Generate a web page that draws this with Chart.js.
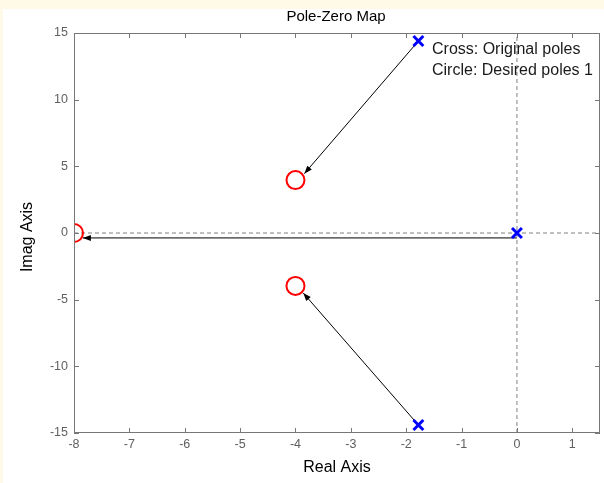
<!DOCTYPE html>
<html>
<head>
<meta charset="utf-8">
<script src="https://cdn.jsdelivr.net/npm/chart.js@4"></script>
<style>
	html, body { margin: 0; padding: 0; background: #fffae8; }
	#wrap { position: absolute; left: 3px; top: 9px; width: 601px; height: 474px; background: #ffffff; }
</style>
</head>
<body>
<div id="wrap"><canvas id="pzChart" width="601" height="474"></canvas></div>
<script>
// axis limits and ticks
const xLimits = [-8, 1.5];
const yLimits = [-15, 15];
const xTicks = [-8, -7, -6, -5, -4, -3, -2, -1, 0, 1];
const yTicks = [-15, -10, -5, 0, 5, 10, 15];

// original poles (crosses)
const poleRe = [-1.78, -1.78, 0];
const poleIm = [14.4, -14.4, 0];

// desired poles (circles)
const desiredRe = [-4, -4, -8];
const desiredIm = [3.97, -3.97, 0];

// arrows: start -> tip
const arrowFromRe = [-1.78, -1.78, 0];
const arrowFromIm = [14.4, -14.4, -0.37];
const arrowToRe = [-3.84, -3.86, -7.84];
const arrowToIm = [4.45, -4.5, -0.37];

const noteLines = ["Cross: Original poles", "Circle: Desired poles 1"];

const FONT = "'Liberation Sans', Arial, sans-serif";

const datasets = [];

datasets.push({
	label: "poles",
	data: poleRe.map((x, i) => ({ x: x, y: poleIm[i] })),
	pointStyle: "crossRot",
	pointRadius: 7,
	pointBorderWidth: 3,
	borderColor: "#0000ff",
	backgroundColor: "#0000ff",
	showLine: false,
	order: 0,
});

datasets.push({
	label: "desired",
	data: desiredRe.map((x, i) => ({ x: x, y: desiredIm[i] })),
	pointStyle: "circle",
	pointRadius: 9,
	pointBorderWidth: 2,
	borderColor: "#ff0000",
	backgroundColor: "rgba(0,0,0,0)",
	showLine: false,
	order: 0,
});

arrowFromRe.forEach((x, i) => {
	datasets.push({
		label: "arrow" + i,
		data: [
			{ x: x, y: arrowFromIm[i] },
			{ x: arrowToRe[i], y: arrowToIm[i] },
		],
		showLine: true,
		borderColor: "#000000",
		borderWidth: 1,
		pointRadius: 0,
		order: 1,
	});
});

// dashed axes through the origin
datasets.push({
	label: "xzero",
	data: [{ x: 0, y: yLimits[0] }, { x: 0, y: yLimits[1] }],
	showLine: true,
	borderColor: "#808080",
	borderWidth: 1,
	borderDash: [4, 3],
	pointRadius: 0,
	order: 2,
});
datasets.push({
	label: "yzero",
	data: [{ x: xLimits[0], y: 0 }, { x: xLimits[1], y: 0 }],
	showLine: true,
	borderColor: "#808080",
	borderWidth: 1,
	borderDash: [4, 3],
	pointRadius: 0,
	order: 2,
});

const decorPlugin = {
	id: "decor",
	afterDatasetsDraw(chart) {
		const ctx = chart.ctx;
		const xs = chart.scales.x;
		const ys = chart.scales.y;

		// arrowheads
		ctx.save();
		ctx.fillStyle = "#000000";
		arrowFromRe.forEach((x, i) => {
			const x0 = xs.getPixelForValue(x);
			const y0 = ys.getPixelForValue(arrowFromIm[i]);
			const x1 = xs.getPixelForValue(arrowToRe[i]);
			const y1 = ys.getPixelForValue(arrowToIm[i]);
			const ang = Math.atan2(y1 - y0, x1 - x0);
			const len = 8, half = 3;
			ctx.beginPath();
			ctx.moveTo(x1, y1);
			ctx.lineTo(x1 - len * Math.cos(ang) + half * Math.sin(ang), y1 - len * Math.sin(ang) - half * Math.cos(ang));
			ctx.lineTo(x1 - len * Math.cos(ang) - half * Math.sin(ang), y1 - len * Math.sin(ang) + half * Math.cos(ang));
			ctx.closePath();
			ctx.fill();
		});
		ctx.restore();
	},
	afterDraw(chart) {
		const ctx = chart.ctx;
		const xs = chart.scales.x;
		const ys = chart.scales.y;
		const a = chart.chartArea;

		ctx.save();
		// box
		ctx.strokeStyle = "#777777";
		ctx.lineWidth = 1;
		ctx.strokeRect(Math.round(a.left) + 0.5, Math.round(a.top) + 0.5, Math.round(a.right - a.left) - 1, Math.round(a.bottom - a.top) - 1);

		// inward ticks
		ctx.beginPath();
		xTicks.forEach((v) => {
			const px = Math.round(xs.getPixelForValue(v)) + 0.5;
			ctx.moveTo(px, a.bottom);
			ctx.lineTo(px, a.bottom - 5);
			ctx.moveTo(px, a.top);
			ctx.lineTo(px, a.top + 5);
		});
		yTicks.forEach((v) => {
			const py = Math.round(ys.getPixelForValue(v)) + 0.5;
			ctx.moveTo(a.left, py);
			ctx.lineTo(a.left + 5, py);
			ctx.moveTo(a.right, py);
			ctx.lineTo(a.right - 5, py);
		});
		ctx.stroke();

		// title and axis labels
		ctx.fillStyle = "#000000";
		ctx.textAlign = "center";
		ctx.textBaseline = "middle";
		ctx.font = "15px " + FONT;
		ctx.fillText("Pole-Zero Map", (a.left + a.right) / 2 - 1, 8);
		ctx.font = "16px " + FONT;
		ctx.fillText("Real Axis", (a.left + a.right) / 2, 459);
		ctx.save();
		ctx.translate(25, 228);
		ctx.rotate(-Math.PI / 2);
		ctx.fillText("Imag Axis", 0, 0);
		ctx.restore();

		// notes
		ctx.textAlign = "left";
		ctx.font = "16px " + FONT;
		ctx.fillStyle = "#1a1a1a";
		noteLines.forEach((t, i) => {
			ctx.fillText(t, 429, 41 + i * 21);
		});
		ctx.restore();
	},
};

new Chart(document.getElementById("pzChart"), {
	type: "scatter",
	data: { datasets: datasets },
	options: {
		responsive: false,
		animation: false,
		layout: { autoPadding: false, padding: { top: 24, right: 4, left: 0, bottom: 0 } },
		plugins: {
			legend: { display: false },
			tooltip: { enabled: false },
			title: { display: false },
		},
		scales: {
			x: {
				type: "linear",
				min: xLimits[0],
				max: xLimits[1],
				grid: { display: false, drawTicks: false },
				border: { display: false },
				ticks: {
					stepSize: 1,
					includeBounds: false,
					padding: 4,
					color: "#606060",
					font: { family: FONT, size: 12.5 },
					maxRotation: 0,
				},
				afterFit(scale) {
					scale.height = 50;
					scale.paddingLeft = 0;
					scale.paddingRight = 0;
				},
			},
			y: {
				type: "linear",
				min: yLimits[0],
				max: yLimits[1],
				grid: { display: false, drawTicks: false },
				border: { display: false },
				ticks: {
					stepSize: 5,
					padding: 6,
					color: "#606060",
					font: { family: FONT, size: 12.5 },
				},
				afterFit(scale) {
					scale.width = 71;
					scale.paddingTop = 0;
					scale.paddingBottom = 0;
				},
			},
		},
	},
	plugins: [decorPlugin],
});
</script>
</body>
</html>
